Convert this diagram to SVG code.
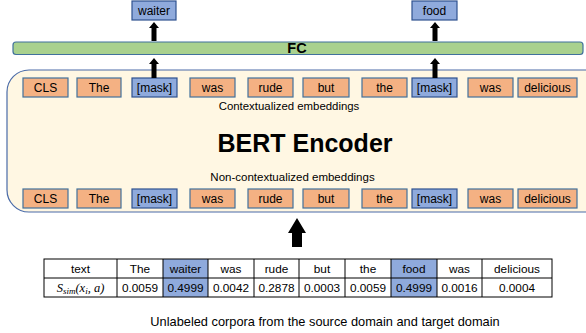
<svg xmlns="http://www.w3.org/2000/svg" width="586" height="333" viewBox="0 0 586 333">
<style>
text{font-family:"Liberation Sans",Arial,sans-serif;fill:#000}
.tok{font-size:12px;text-anchor:middle}
.org{fill:#F4B183;stroke:#41719C;stroke-width:1.2}
.blu{fill:#8FAADC;stroke:#2F528F;stroke-width:1.2}
.cell{fill:none;stroke:#000;stroke-width:1}
.tc{font-size:11.8px;text-anchor:middle}
.arr{fill:#000}
</style>
<rect width="586" height="333" fill="#fff"/>
<g id="encoder">
<rect x="7" y="70" width="600" height="142" rx="22" fill="#FFF7E3" stroke="#4A6BA8" stroke-width="1.2"/>
<text x="289" y="109.5" font-size="11.4" text-anchor="middle">Contextualized embeddings</text>
<text x="305" y="152" font-size="25" font-weight="bold" text-anchor="middle">BERT Encoder</text>
<text x="292.5" y="181" font-size="11.5" text-anchor="middle">Non-contextualized embeddings</text>
</g>
<g id="fc">
<rect x="13" y="42" width="570" height="12.5" rx="3" fill="#A9D18E" stroke="#41719C" stroke-width="1.2"/>
<text x="297" y="53.3" font-size="14.5" font-weight="bold" text-anchor="middle">FC</text>
</g>
<g id="out-waiter"><rect class="blu" x="132" y="1" width="44" height="19"/><text class="tok" x="154" y="14.8">waiter</text></g>
<g id="out-food"><rect class="blu" x="412" y="1" width="45" height="19"/><text class="tok" x="434.5" y="14.8">food</text></g>
<g id="top-row">
<rect class="org" x="23" y="78" width="45" height="19"/><text class="tok" x="45.5" y="91.8">CLS</text>
<rect class="org" x="77" y="78" width="44" height="19"/><text class="tok" x="99" y="91.8">The</text>
<rect class="blu" x="132" y="78" width="45" height="19"/><text class="tok" x="154.5" y="91.8">[mask]</text>
<rect class="org" x="190" y="78" width="45" height="19"/><text class="tok" x="212.5" y="91.8">was</text>
<rect class="org" x="248" y="78" width="45" height="19"/><text class="tok" x="270.5" y="91.8">rude</text>
<rect class="org" x="303" y="78" width="46" height="19"/><text class="tok" x="326" y="91.8">but</text>
<rect class="org" x="362" y="78" width="45" height="19"/><text class="tok" x="384.5" y="91.8">the</text>
<rect class="blu" x="412" y="78" width="45" height="19"/><text class="tok" x="434.5" y="91.8">[mask]</text>
<rect class="org" x="468" y="78" width="45" height="19"/><text class="tok" x="490.5" y="91.8">was</text>
<rect class="org" x="518" y="78" width="59" height="19"/><text class="tok" x="547.5" y="91.8">delicious</text>
</g>
<g id="bottom-row">
<rect class="org" x="23" y="189" width="45" height="19"/><text class="tok" x="45.5" y="202.8">CLS</text>
<rect class="org" x="77" y="189" width="44" height="19"/><text class="tok" x="99" y="202.8">The</text>
<rect class="blu" x="132" y="189" width="45" height="19"/><text class="tok" x="154.5" y="202.8">[mask]</text>
<rect class="org" x="190" y="189" width="45" height="19"/><text class="tok" x="212.5" y="202.8">was</text>
<rect class="org" x="248" y="189" width="45" height="19"/><text class="tok" x="270.5" y="202.8">rude</text>
<rect class="org" x="303" y="189" width="46" height="19"/><text class="tok" x="326" y="202.8">but</text>
<rect class="org" x="362" y="189" width="45" height="19"/><text class="tok" x="384.5" y="202.8">the</text>
<rect class="blu" x="412" y="189" width="45" height="19"/><text class="tok" x="434.5" y="202.8">[mask]</text>
<rect class="org" x="468" y="189" width="45" height="19"/><text class="tok" x="490.5" y="202.8">was</text>
<rect class="org" x="518" y="189" width="59" height="19"/><text class="tok" x="547.5" y="202.8">delicious</text>
</g>
<g id="connectors">
<path class="arr" d="M154 22 L159 28 L156.5 28 L156.5 41 L151.5 41 L151.5 28 L149 28 Z"/>
<path class="arr" d="M154 58 L159 64 L156.5 64 L156.5 78 L151.5 78 L151.5 64 L149 64 Z"/>
<path class="arr" d="M435 22 L440 28 L437.5 28 L437.5 41 L432.5 41 L432.5 28 L430 28 Z"/>
<path class="arr" d="M435 58 L440 64 L437.5 64 L437.5 78 L432.5 78 L432.5 64 L430 64 Z"/>
<path class="arr" d="M297 218 L306 233 L302 233 L302 247 L292 247 L292 233 L288 233 Z"/>
</g>
<g id="table">
<rect x="163" y="259" width="45" height="38" fill="#8FAADC"/>
<rect x="391" y="259" width="46" height="38" fill="#8FAADC"/>
<rect class="cell" x="44" y="259" width="508" height="38"/>
<line class="cell" x1="44" y1="278" x2="552" y2="278"/>
<path class="cell" d="M117 259V297M163 259V297M208 259V297M254 259V297M299 259V297M345 259V297M391 259V297M437 259V297M482 259V297"/>
<text class="tc" x="80.5" y="272.5">text</text>
<text class="tc" x="140" y="272.5">The</text>
<text class="tc" x="185.5" y="272.5">waiter</text>
<text class="tc" x="231" y="272.5">was</text>
<text class="tc" x="276.5" y="272.5">rude</text>
<text class="tc" x="322" y="272.5">but</text>
<text class="tc" x="368" y="272.5">the</text>
<text class="tc" x="414" y="272.5">food</text>
<text class="tc" x="459.5" y="272.5">was</text>
<text class="tc" x="517" y="272.5">delicious</text>
<text x="80.5" y="291.5" font-size="12.5" text-anchor="middle" style="font-family:'Liberation Serif','Times New Roman',serif;font-style:italic">S<tspan font-size="9" dy="2">sim</tspan><tspan dy="-2">(x</tspan><tspan font-size="9" dy="2">i</tspan><tspan dy="-2">, a)</tspan></text>
<text class="tc" x="140" y="291.5">0.0059</text>
<text class="tc" x="185.5" y="291.5">0.4999</text>
<text class="tc" x="231" y="291.5">0.0042</text>
<text class="tc" x="276.5" y="291.5">0.2878</text>
<text class="tc" x="322" y="291.5">0.0003</text>
<text class="tc" x="368" y="291.5">0.0059</text>
<text class="tc" x="414" y="291.5">0.4999</text>
<text class="tc" x="459.5" y="291.5">0.0016</text>
<text class="tc" x="517" y="291.5">0.0004</text>
</g>
<text x="325" y="325.5" font-size="12.8" text-anchor="middle">Unlabeled corpora from the source domain and target domain</text>
</svg>
